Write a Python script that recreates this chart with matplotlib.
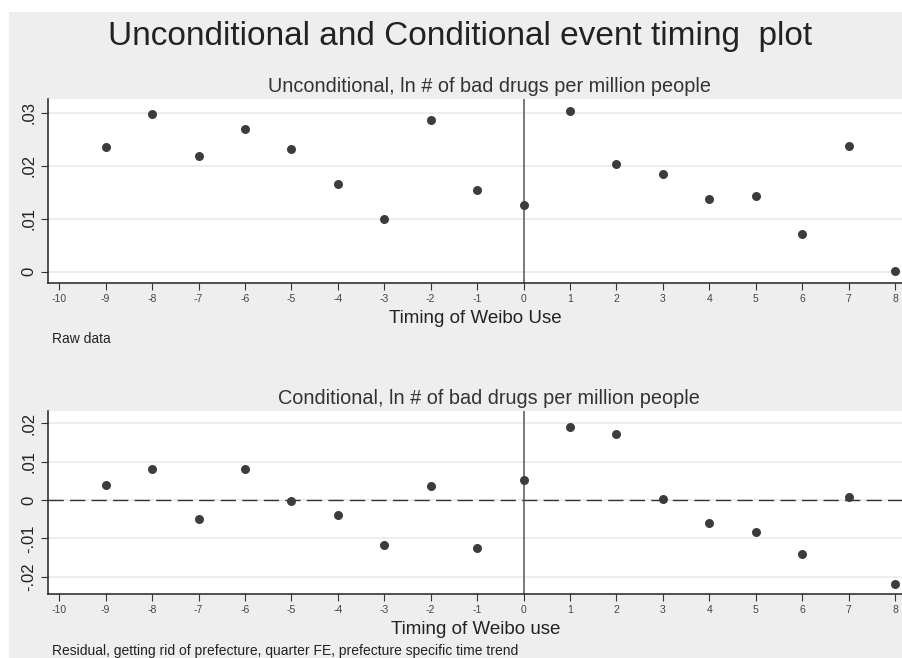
import numpy as np
from matplotlib import pyplot as plt
from matplotlib.patches import Rectangle

plt.rcParams["font.family"] = ["Liberation Sans", "DejaVu Sans"]

# event time relative to first Weibo use
timing = list(range(-9, 9))

# raw means, ln # of bad drugs per million people
uncond = [0.0235, 0.0298, 0.0218, 0.0269, 0.0232, 0.0166, 0.0099, 0.0286, 0.0155,
          0.0127, 0.0303, 0.0203, 0.0184, 0.0137, 0.0143, 0.0071, 0.0237, 0.0001]

# residuals after prefecture, quarter FE and prefecture specific trend
cond = [0.0039, 0.0080, -0.0050, 0.0081, -0.0003, -0.0040, -0.0118, 0.0036, -0.0124,
        0.0051, 0.0191, 0.0172, 0.0002, -0.0060, -0.0084, -0.0140, 0.0009, -0.0218]

xticks = list(range(-10, 9))
uncond_yticks = [0, 0.01, 0.02, 0.03]
uncond_ylabels = ["0", ".01", ".02", ".03"]
cond_yticks = [-0.02, -0.01, 0, 0.01, 0.02]
cond_ylabels = ["-.02", "-.01", "0", ".01", ".02"]

W, H = 903, 658
bg = "#eeeeee"
dot = "#3c3c3c"

fig = plt.figure(figsize=(W / 100, H / 100), dpi=100, facecolor=bg)
# thin white margin along the top and left edges
for x0, y0, w, h in [(0, 1 - 12 / H, 1, 12 / H), (0, 0, 9 / W, 1)]:
    fig.patches.append(Rectangle((x0, y0), w, h, transform=fig.transFigure,
                                 facecolor="white", edgecolor="none", zorder=-10))
fig.text(0.509, 1 - 45 / H, "Unconditional and Conditional event timing  plot",
         ha="center", va="baseline", fontsize=24, color="#222222")


def panel(rect, y, yticks, ylabels, ylim, title, xlabel, note, note_y, zero_line):
    ax = fig.add_axes(rect)
    ax.set_facecolor("white")
    ax.set_xlim(-10.24, 8.17)
    ax.set_ylim(*ylim)
    for v in yticks:
        ax.axhline(v, color="#ececec", lw=1.3, zorder=0)
    if zero_line:
        ax.axhline(0, color="#333333", lw=1, ls=(0, (11, 4.5)), zorder=1)
    ax.axvline(0, color="#555555", lw=1.1, zorder=1)
    ax.scatter(timing, y, s=42, color=dot, zorder=3, linewidths=0)
    ax.set_xticks(xticks)
    ax.set_xticklabels([str(t) for t in xticks], fontsize=7.5, color="#444444")
    ax.set_yticks(yticks)
    ax.set_yticklabels(ylabels, fontsize=12, rotation=90, va="center", color="#222222")
    ax.tick_params(axis="both", direction="out", length=5, width=0.8, color="#333333")
    ax.tick_params(axis="x", pad=3)
    for side in ("top", "right"):
        ax.spines[side].set_visible(False)
    for side in ("left", "bottom"):
        ax.spines[side].set_color("#222222")
        ax.spines[side].set_linewidth(1.1)
    ax.set_title(title, fontsize=14.3, color="#333333", pad=5, x=0.516)
    ax.set_xlabel(xlabel, fontsize=13.5, color="#222222", labelpad=4)
    fig.text(0.058, note_y, note, fontsize=10, color="#222222", va="baseline")
    return ax


panel([0.0532, 0.5699, 0.9468, 0.2796], uncond, uncond_yticks, uncond_ylabels,
      (-0.0021, 0.0326), "Unconditional, ln # of bad drugs per million people",
      "Timing of Weibo Use", "Raw data", 1 - 343 / H, False)
panel([0.0532, 0.0973, 0.9468, 0.2781], cond, cond_yticks, cond_ylabels,
      (-0.0245, 0.0232), "Conditional, ln # of bad drugs per million people",
      "Timing of Weibo use",
      "Residual, getting rid of prefecture, quarter FE, prefecture specific time trend",
      1 - 655 / H, True)

fig.savefig("out.png", dpi=100, facecolor=bg)
